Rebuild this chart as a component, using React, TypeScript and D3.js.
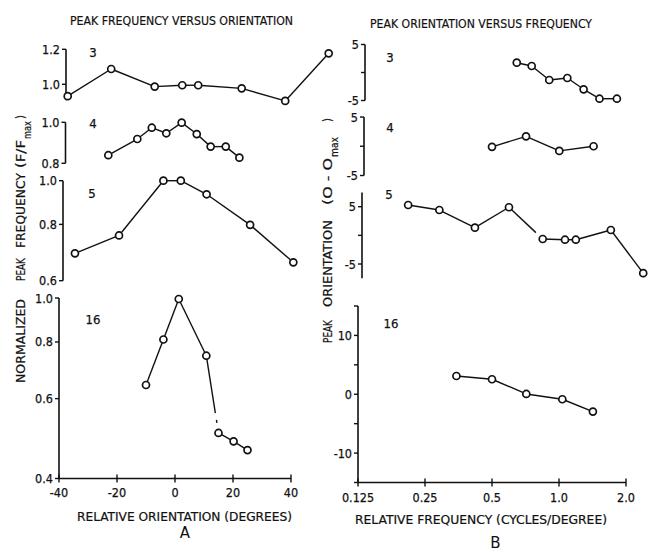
import React, { useLayoutEffect, useRef } from "react";
import * as d3 from "d3";

// ---------- Panel A: peak frequency (F/Fmax) versus relative orientation (deg) ----------
const a3Orientation = [-37, -22, -7, 2.5, 8, 23, 38, 53];
const a3Frequency = [0.94, 1.083, 0.988, 0.995, 0.995, 0.979, 0.917, 1.175];
const a4Orientation = [-23, -13, -8, -3, 2.3, 7.5, 12.3, 17.5, 22.2];
const a4Frequency = [0.836, 0.913, 0.971, 0.942, 0.998, 0.938, 0.876, 0.876, 0.825];
const a5Orientation = [-34.5, -19.3, -4, 2, 10.9, 25.9, 40.8];
const a5Frequency = [0.69, 0.756, 1.0, 1.0, 0.933, 0.798, 0.659];
const a16Orientation = [-10, -4, 1.3, 10.8, 15, 20.2, 25];
const a16Frequency = [0.643, 0.81, 0.995, 0.746, 0.504, 0.483, 0.462];

// ---------- Panel B: peak orientation (O - Omax) versus relative frequency (c/deg) ----------
const b3Frequency = [0.646, 0.754, 0.904, 1.09, 1.29, 1.52, 1.82];
const b3Orientation = [1.75, 1.16, -1.34, -0.98, -3.0, -4.68, -4.68];
const b4Frequency = [0.5, 0.711, 1.003, 1.43];
const b4Orientation = [-0.1, 1.7, -0.8, 0.0];
const b5Frequency = [0.21, 0.29, 0.419, 0.596, 0.845, 1.064, 1.19, 1.71, 2.39];
const b5Orientation = [5.3, 4.42, 1.34, 4.9, -0.64, -0.76, -0.76, 0.93, -6.6];
const b16Frequency = [0.346, 0.5, 0.713, 1.035, 1.42];
const b16Orientation = [3.1, 2.55, 0.05, -0.85, -2.95];

// ---------- ticks ----------
const aXTicks = [-40, -20, 0, 20, 40];
const bXTicks = [0.125, 0.25, 0.5, 1.0, 2.0];
const bXTickLabels = ["0.125", "0.25", "0.5", "1.0", "2.0"];
const a3YTicks = [1.0, 1.2];
const a4YTicks = [0.8, 1.0];
const a5YTicks = [0.6, 0.8, 1.0];
const a16YTicks = [0.4, 0.6, 0.8, 1.0];
const b3YTicks = [-5, 0, 5];
const b3YLabels = [-5, 5];
const b4YTicks = [-5, 0, 5];
const b4YLabels = [-5, 5];
const b5YTicks = [-5, 0, 5];
const b5YLabels = [-5, 5];
const b16YTicks = [-15, -10, -5, 0, 5, 10, 15];
const b16YLabels = [-10, 0, 10];

const FONT = "'DejaVu Sans Condensed', 'Liberation Sans Narrow', 'DejaVu Sans', sans-serif";
const INK = "#111";

const xA = d3.scaleLinear().domain([-40, 40]).range([59, 291]);
const xB = d3.scaleLog().base(2).domain([0.125, 2]).range([358, 626]);

type Sub = {
  name: string;
  xs: number[];
  ys: number[];
  x: (v: number) => number;
  y: any;
  axisX: number;
  axisFrom: number;
  axisTo: number;
  ticks: number[];
  labels: number[];
  fmt: (v: number) => string;
  num: [number, number];
  gap?: { seg: number; dash: string };
};

const f1 = d3.format(".1f");
const fi = (v: number) => (v < 0 ? "-" + Math.abs(v) : String(v));

const subs: Sub[] = [
  {
    name: "3", xs: a3Orientation, ys: a3Frequency, x: xA,
    y: d3.scaleLog().domain([1.0, 1.2]).range([84.3, 49.3]),
    axisX: 66, axisFrom: 0.92, axisTo: 1.2, ticks: a3YTicks, labels: a3YTicks, fmt: f1, num: [93, 57],
  },
  {
    name: "4", xs: a4Orientation, ys: a4Frequency, x: xA,
    y: d3.scaleLog().domain([0.8, 1.0]).range([163.3, 122.3]),
    axisX: 65.5, axisFrom: 0.8, axisTo: 1.0, ticks: a4YTicks, labels: a4YTicks, fmt: f1, num: [93, 128],
  },
  {
    name: "5", xs: a5Orientation, ys: a5Frequency, x: xA,
    y: d3.scaleLog().domain([0.6, 1.0]).range([280.7, 180.7]),
    axisX: 63, axisFrom: 0.6, axisTo: 1.0, ticks: a5YTicks, labels: a5YTicks, fmt: f1, num: [92, 198],
  },
  {
    name: "16", xs: a16Orientation, ys: a16Frequency, x: xA,
    y: d3.scaleLog().domain([0.4, 1.0]).range([478.5, 298]),
    axisX: 59, axisFrom: 0.4, axisTo: 1.0, ticks: a16YTicks, labels: a16YTicks, fmt: f1, num: [93, 324],
    gap: { seg: 3, dash: "58,7,3,40" },
  },
  {
    name: "3", xs: b3Frequency, ys: b3Orientation, x: xB,
    y: d3.scaleLinear().domain([-5, 5]).range([100.5, 44.5]),
    axisX: 365, axisFrom: -5, axisTo: 5, ticks: b3YTicks, labels: b3YLabels, fmt: fi, num: [390, 62],
  },
  {
    name: "4", xs: b4Frequency, ys: b4Orientation, x: xB,
    y: d3.scaleLinear().domain([-5, 5]).range([175.5, 117]),
    axisX: 364, axisFrom: -5, axisTo: 5, ticks: b4YTicks, labels: b4YLabels, fmt: fi, num: [390, 132],
  },
  {
    name: "5", xs: b5Frequency, ys: b5Orientation, x: xB,
    y: d3.scaleLinear().domain([-5, 5]).range([264, 206.7]),
    axisX: 362, axisFrom: -7.5, axisTo: 7.5, ticks: b5YTicks, labels: b5YLabels, fmt: fi, num: [389, 199],
    gap: { seg: 3, dash: "37,30" },
  },
  {
    name: "16", xs: b16Frequency, ys: b16Orientation, x: xB,
    y: d3.scaleLinear().domain([-15, 15]).range([482.5, 306]),
    axisX: 358, axisFrom: -15, axisTo: 15, ticks: b16YTicks, labels: b16YLabels, fmt: fi, num: [391, 328],
  },
];

function Subplot({ s }: { s: Sub }) {
  const pts = s.xs.map((v, i) => [s.x(v), s.y(s.ys[i])] as [number, number]);
  const segs = pts.slice(1).map((p, i) => [pts[i], p]);
  return (
    <g>
      <line x1={s.axisX} x2={s.axisX} y1={s.y(s.axisFrom)} y2={s.y(s.axisTo)} stroke={INK} strokeWidth={1.6} />
      {s.ticks.map((t) => (
        <line key={"t" + t} x1={s.axisX - 4} x2={s.axisX} y1={s.y(t)} y2={s.y(t)} stroke={INK} strokeWidth={1.4} />
      ))}
      {s.labels.map((t) => (
        <text key={"l" + t} x={s.axisX - 6} y={s.y(t) + 4.5} textAnchor="end" fontSize={12.5} fontFamily={FONT} fill={INK} stroke={INK} strokeWidth={0.25}>
          {s.fmt(t)}
        </text>
      ))}
      <text x={s.num[0]} y={s.num[1]} textAnchor="middle" fontSize={13} fontFamily={FONT} fill={INK} stroke={INK} strokeWidth={0.25}>
        {s.name}
      </text>
      {segs.map((sg, i) => (
        <path
          key={"s" + i}
          d={d3.line()(sg) || ""}
          stroke={INK}
          strokeWidth={1.4}
          fill="none"
          strokeDasharray={s.gap && s.gap.seg === i ? s.gap.dash : undefined}
        />
      ))}
      {pts.map((p, i) => (
        <circle key={"c" + i} cx={p[0]} cy={p[1]} r={3.5} fill="#fff" stroke={INK} strokeWidth={1.7} />
      ))}
    </g>
  );
}

// rotated text fitted to a length (x = baseline, y = bottom end of the word)
function RotText({ x, y, text, len, size = 12.5 }: { x: number; y: number; text: string; len: number; size?: number }) {
  const ref = useRef<SVGTextElement>(null);
  useLayoutEffect(() => {
    const el = ref.current;
    if (!el) return;
    const w = el.getComputedTextLength();
    const k = w > 0 ? len / w : 1;
    el.setAttribute("transform", `translate(${x},${y}) rotate(-90) scale(${k},1)`);
  }, [x, y, len, text]);
  return (
    <text ref={ref} transform={`translate(${x},${y}) rotate(-90)`} fontSize={size} fontFamily={FONT} fill={INK} stroke={INK} strokeWidth={0.2}>
      {text}
    </text>
  );
}

export default function App() {
  const axA = 478.5;
  const axB = 482.5;
  return (
    <svg width={655} height={552} style={{ position: "absolute", left: 0, top: 0, background: "#fff" }}>
      <rect x={0} y={0} width={655} height={552} fill="#fff" />
      {/* titles */}
      <text x={70} y={25} fontSize={13} fontFamily={FONT} fill={INK} stroke={INK} strokeWidth={0.2} textLength={223} lengthAdjust="spacingAndGlyphs">
        PEAK FREQUENCY VERSUS ORIENTATION
      </text>
      <text x={370} y={28} fontSize={13} fontFamily={FONT} fill={INK} stroke={INK} strokeWidth={0.2} textLength={222} lengthAdjust="spacingAndGlyphs">
        PEAK ORIENTATION VERSUS FREQUENCY
      </text>

      {/* y labels A */}
      <RotText x={25} y={383} text="NORMALIZED" len={84} />
      <RotText x={25} y={281} text="PEAK" len={23} />
      <RotText x={25} y={248} text="FREQUENCY" len={75} />
      <RotText x={25} y={168} text="(F/F" len={28} />
      <RotText x={31} y={139} text="max" len={18} size={10} />
      <RotText x={25} y={119} text=")" len={4} />

      {/* y labels B */}
      <RotText x={332} y={343} text="PEAK" len={23} />
      <RotText x={332} y={307} text="ORIENTATION" len={87} />
      <RotText x={332} y={205} text="(O - O" len={47} />
      <RotText x={338} y={157} text="max" len={20} size={10} />
      <RotText x={332} y={122} text=")" len={4} />

      {subs.map((s, i) => (
        <Subplot key={i} s={s} />
      ))}

      {/* x axis A */}
      <line x1={xA(-40)} x2={xA(40)} y1={axA} y2={axA} stroke={INK} strokeWidth={1.6} />
      {aXTicks.map((t) => (
        <g key={"ax" + t}>
          <line x1={xA(t)} x2={xA(t)} y1={axA - 4} y2={axA + 4} stroke={INK} strokeWidth={1.4} />
          <text x={xA(t)} y={axA + 18} textAnchor="middle" fontSize={12.5} fontFamily={FONT} fill={INK} stroke={INK} strokeWidth={0.25}>
            {fi(t)}
          </text>
        </g>
      ))}
      <text x={77} y={521} fontSize={12} fontFamily={FONT} fill={INK} stroke={INK} strokeWidth={0.2} textLength={215} lengthAdjust="spacingAndGlyphs">
        RELATIVE  ORIENTATION (DEGREES)
      </text>
      <text x={185} y={538} textAnchor="middle" fontSize={15} fontFamily="'DejaVu Sans', sans-serif" fill={INK}>
        A
      </text>

      {/* x axis B */}
      <line x1={xB(0.125)} x2={xB(2)} y1={axB} y2={axB} stroke={INK} strokeWidth={1.6} />
      {bXTicks.map((t, i) => (
        <g key={"bx" + t}>
          <line x1={xB(t)} x2={xB(t)} y1={axB - 4} y2={axB + 4} stroke={INK} strokeWidth={1.4} />
          <text x={xB(t)} y={axB + 19} textAnchor="middle" fontSize={12.5} fontFamily={FONT} fill={INK} stroke={INK} strokeWidth={0.25}>
            {bXTickLabels[i]}
          </text>
        </g>
      ))}
      <text x={355} y={524} fontSize={12} fontFamily={FONT} fill={INK} stroke={INK} strokeWidth={0.2} textLength={252} lengthAdjust="spacingAndGlyphs">
        RELATIVE  FREQUENCY  (CYCLES/DEGREE)
      </text>
      <text x={495.5} y={548} textAnchor="middle" fontSize={15} fontFamily="'DejaVu Sans', sans-serif" fill={INK}>
        B
      </text>
    </svg>
  );
}
